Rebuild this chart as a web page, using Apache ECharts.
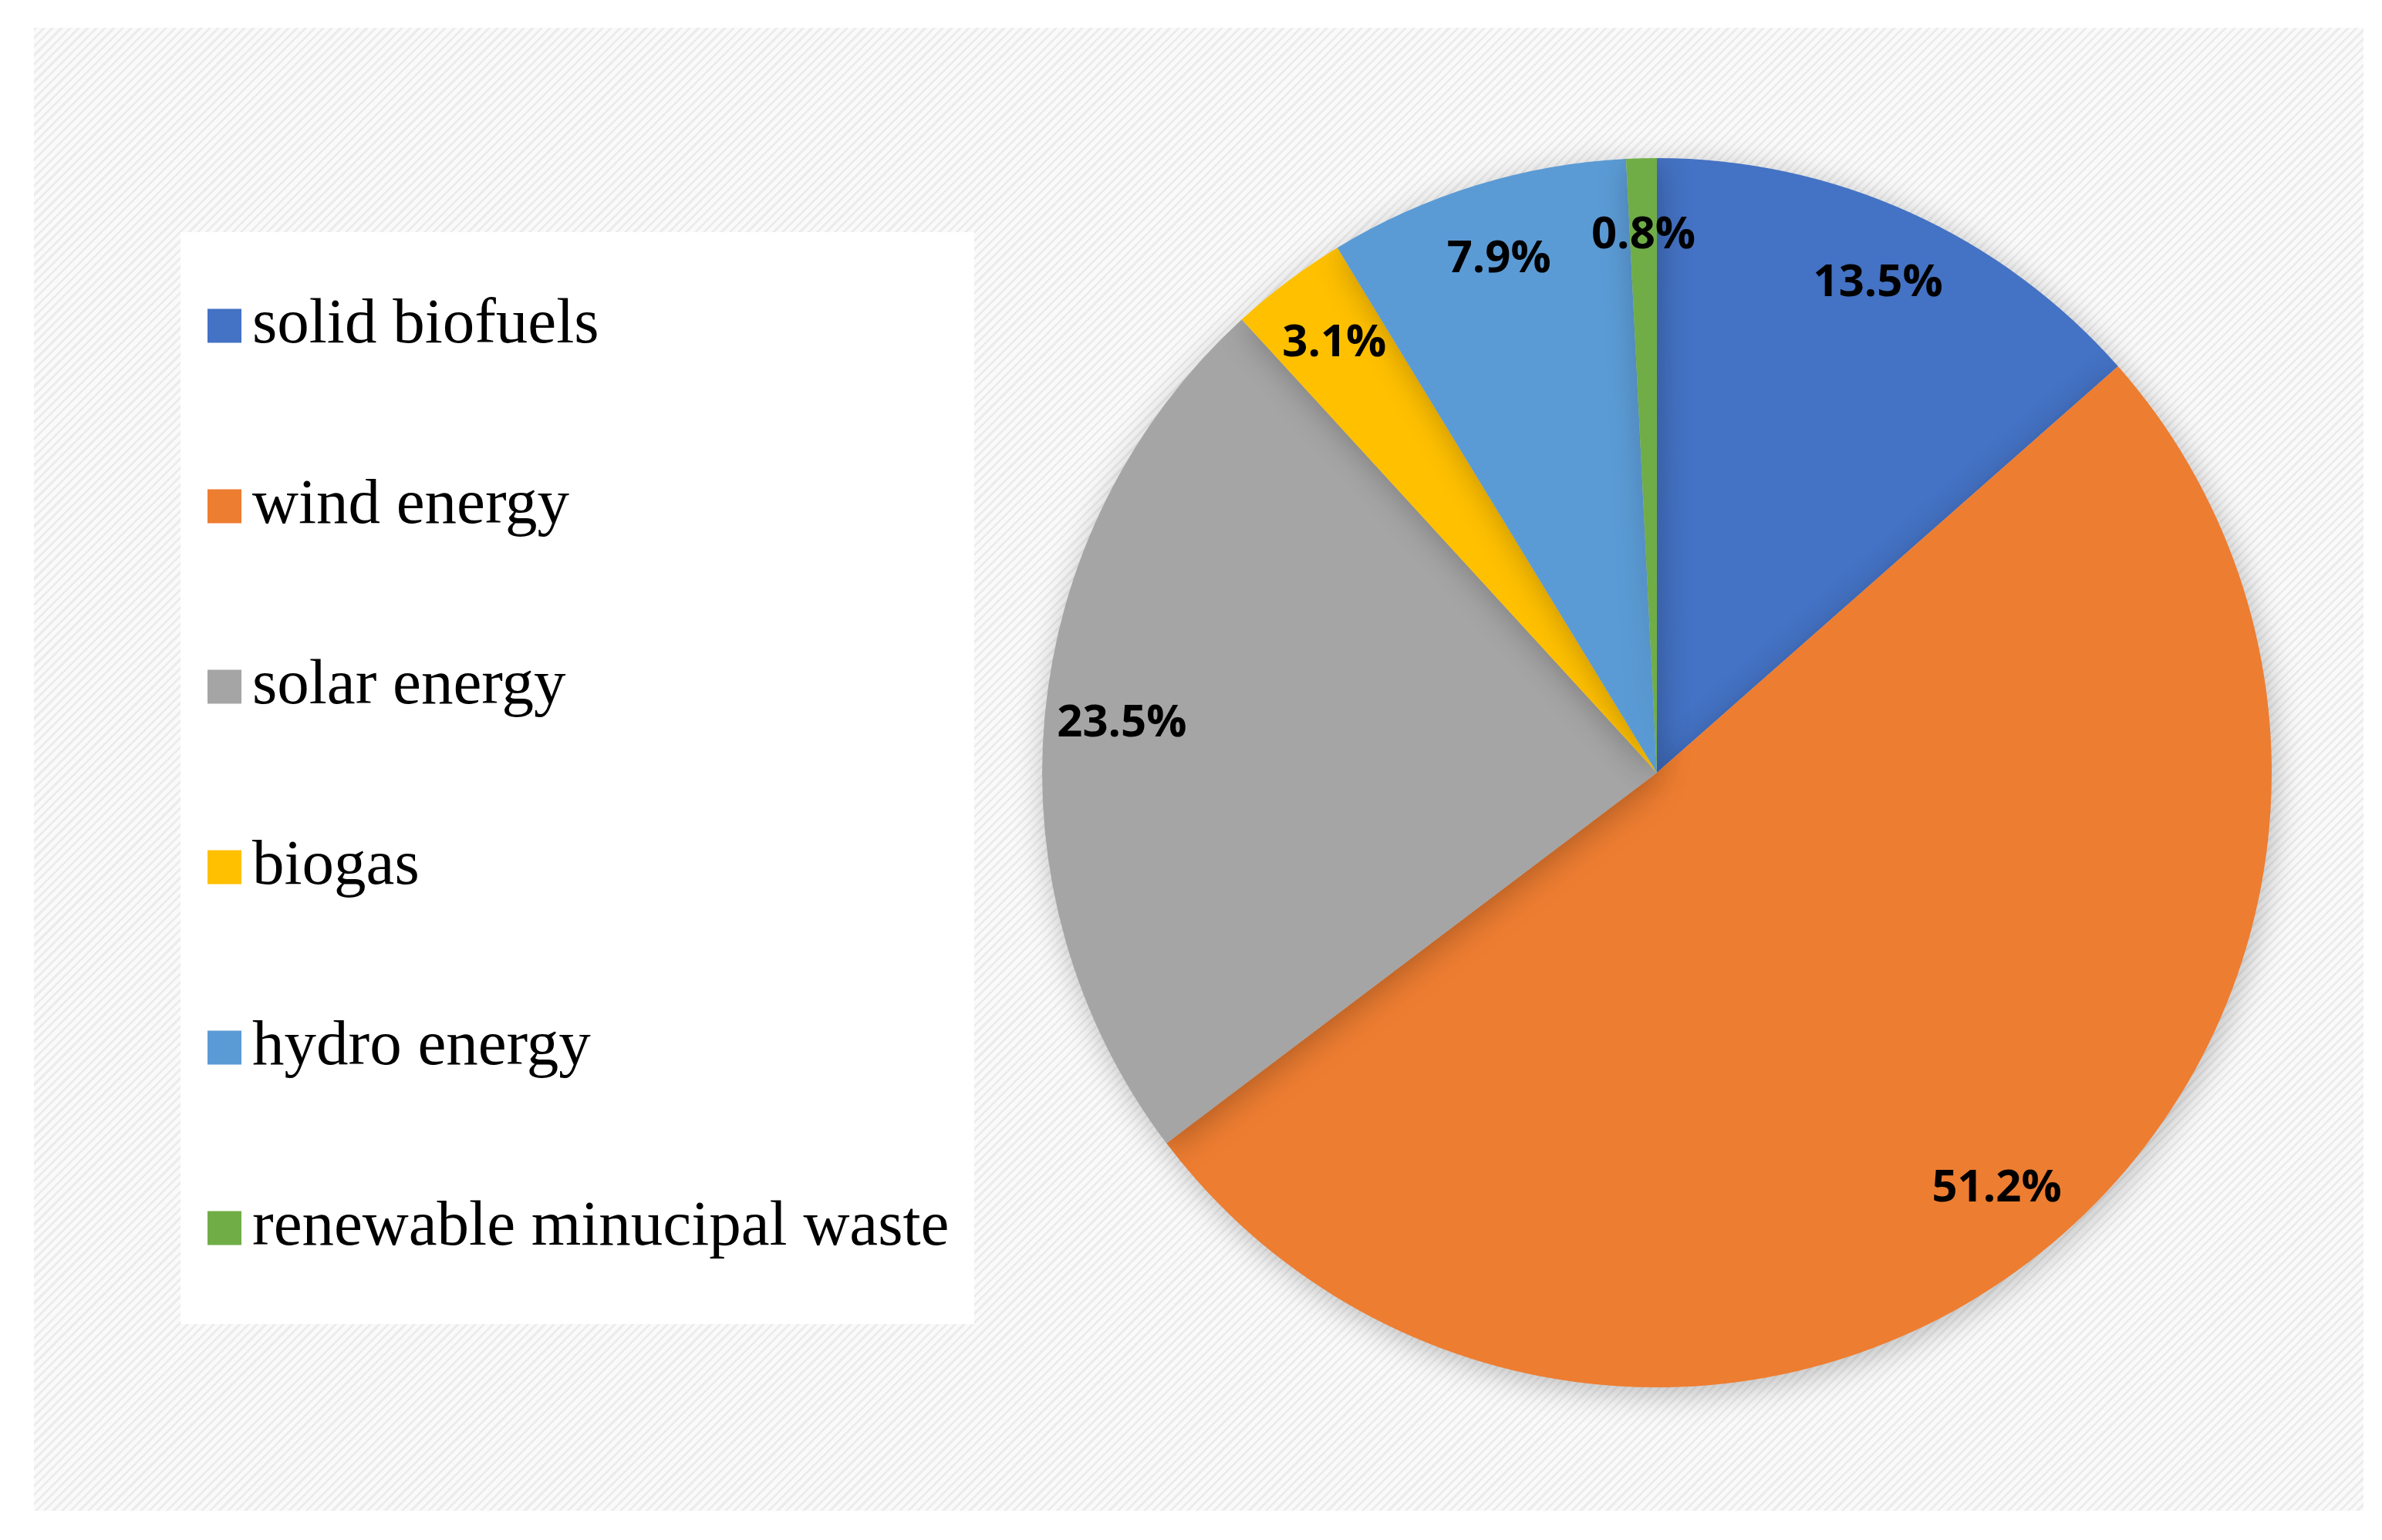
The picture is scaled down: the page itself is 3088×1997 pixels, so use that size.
<!DOCTYPE html>
<html><head><meta charset="utf-8">
<script src="https://cdn.jsdelivr.net/npm/echarts@6/dist/echarts.min.js"></script>
<style>
html,body{margin:0;padding:0;background:#fff;}
#bg{position:absolute;left:44px;top:36px;width:3020px;height:1923px;
background:repeating-linear-gradient(135deg,#ececec 0px,#ececec 3px,#fafafa 3px,#fafafa 8px);}
#c{position:absolute;left:0;top:0;width:3088px;height:1997px;}
</style></head><body>
<div id="bg"></div><div id="c"></div>
<script>
const categories=['solid biofuels','wind energy','solar energy','biogas','hydro energy','renewable minucipal waste'];
const values=[13.5,51.2,23.5,3.1,7.9,0.8];
const colors=['#4472C4','#ED7D31','#A5A5A5','#FFC000','#5B9BD5','#70AD47'];
const data=categories.map((n,i)=>({name:n,value:values[i],itemStyle:{color:colors[i]}}));
const chart=echarts.init(document.getElementById('c'),null,{renderer:'canvas'});
chart.setOption({
  backgroundColor:'transparent',
  graphic:[{type:'rect',shape:{x:234,y:301,width:1029,height:1416},style:{fill:'#fff'},z:-1}],
  legend:{orient:'vertical',left:264,top:376,itemWidth:44,itemHeight:44,itemGap:151,icon:'rect',
    data:categories,textStyle:{fontFamily:'Liberation Serif',fontSize:83,color:'#000',padding:[0,0,0,9]}},
  series:[
    {type:'pie',center:[2148,1002],radius:[0,797],startAngle:90,clockwise:true,label:{show:false},labelLine:{show:false},
     itemStyle:{shadowBlur:40,shadowColor:'rgba(0,0,0,0.25)',shadowOffsetX:4,shadowOffsetY:8},
     emphasis:{disabled:true},data:data,animation:false},
    {type:'pie',center:[2148,1002],radius:[590,797],startAngle:90,clockwise:true,silent:true,animation:false,
     itemStyle:{color:'rgba(0,0,0,0)'},
     label:{show:true,position:'inside',formatter:p=>p.value.toFixed(1)+'%',fontFamily:'Open Sans',fontWeight:'bold',fontSize:58,color:'#000'},
     labelLine:{show:false},data:categories.map((n,i)=>({name:n+' ',value:values[i]}))}
  ]
});
</script></body></html>
